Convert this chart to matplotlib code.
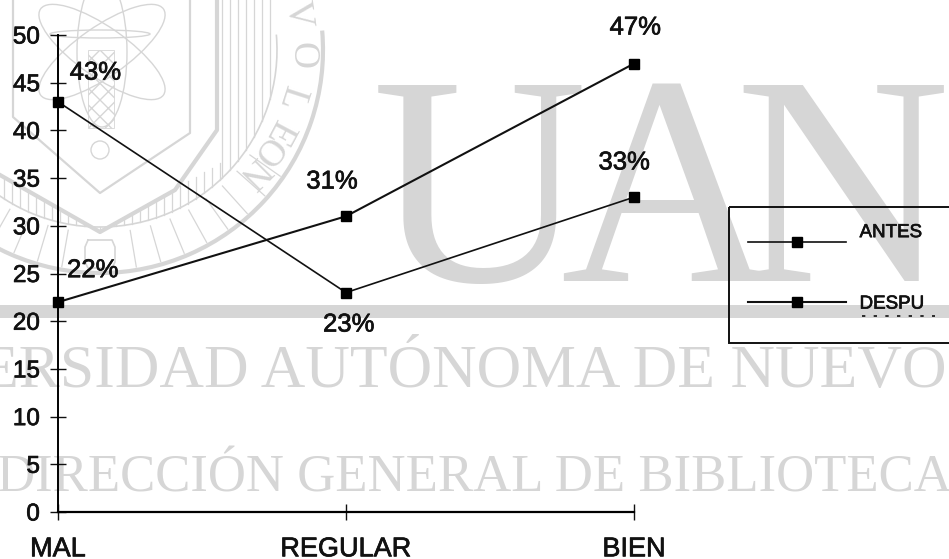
import matplotlib
matplotlib.use("Agg")
import numpy as np
import matplotlib.pyplot as plt
import matplotlib.patheffects as pe
from matplotlib.patches import Ellipse, Arc, Rectangle

W, H = 949, 559
categories = ["MAL", "REGULAR", "BIEN"]
antes = [43, 23, 33]
despues = [22, 31, 47]
yticks = list(range(0, 51, 5))
GRAY = "#d6d6d6"
INK = "#111111"
plt.rcParams["font.family"] = ["Liberation Sans", "DejaVu Sans"]
stroke = [pe.withStroke(linewidth=0.5, foreground=INK)]

fig = plt.figure(figsize=(W / 100, H / 100), dpi=100, facecolor="white")

# scanned watermark, in pixel coordinates
bg = fig.add_axes([0, 0, 1, 1], zorder=0)
bg.set_xlim(0, W); bg.set_ylim(H, 0); bg.axis("off")
serif = "Liberation Serif"
for s, x in [("U", 480), ("A", 668), ("N", 842)]:
    bg.text(x, 281, s, family=serif, fontsize=215, color=GRAY, ha="center", va="baseline")
bg.axhspan(305, 318, color=GRAY, lw=0)
bg.text(947, 387, "ERSIDAD AUTÓNOMA DE NUEVO", family=serif, fontsize=44.5, color=GRAY, ha="right", va="baseline")
bg.text(-3, 492, "DIRECCIÓN GENERAL DE BIBLIOTECA", family=serif, fontsize=38, color=GRAY, ha="left", va="baseline")

# seal
cx, cy = 100, 50
thin = dict(color=GRAY, lw=0.9)
bg.add_patch(Arc((cx, cy), 446, 446, theta1=-5, theta2=185, fill=False, ec=GRAY, lw=3))
bg.add_patch(Arc((cx, cy), 354, 354, theta1=-5, theta2=185, fill=False, ec=GRAY, lw=1.2))
bg.plot([13, 13, 100, 190, 190], [0, 117, 193, 133, 0], color=GRAY, lw=1.6)
bg.plot([0, 100, 175, 217, 217], [175, 232, 190, 130, 0], color=GRAY, lw=3)
for x in np.arange(222, 277, 8):
    bg.plot([x, x], [0, cy + np.sqrt(177 ** 2 - (x - cx) ** 2)], **thin)
for x in np.arange(4, 222, 8):
    top = 232 - 0.575 * abs(x - cx)
    bg.plot([x, x], [top, cy + np.sqrt(177 ** 2 - (x - cx) ** 2)], **thin)
for a in np.arange(35, 160, 6.5):
    t = np.radians(a)
    if abs(a - 90) > 7:
        bg.plot([cx + 183 * np.cos(t), cx + 220 * np.cos(t)],
                [cy + 183 * np.sin(t), cy + 220 * np.sin(t)], **thin)
bg.plot([88, 112, 115, 115, 112, 88, 85, 85, 88], [240, 240, 247, 262, 268, 268, 262, 247, 240], color=GRAY, lw=1.2)
for ang in (-35, 35, 90):
    bg.add_patch(Ellipse((102, 52), 150, 50, angle=ang, fill=False, ec=GRAY, lw=1.0))
bg.add_patch(Rectangle((88, 50), 26, 78, fill=False, ec=GRAY, lw=0.6, hatch="xx"))
bg.add_patch(Ellipse((100, 34), 100, 8, fill=False, ec=GRAY, lw=1.0))
bg.add_patch(Ellipse((100, 150), 18, 18, fill=False, ec=GRAY, lw=1.0))
for s, x, y, rot in [("V", 298, 14, -82), ("O", 302, 55, -90), ("L", 291, 98, -108),
                     ("E", 279, 132, -118), ("O", 266, 150, -128), ("N", 253, 172, -135)]:
    bg.text(x, y, s, family=serif, fontsize=27, color=GRAY, rotation=rot, rotation_mode="anchor", ha="center", va="center")

# legend frame and scan remnants (runs off the right edge as in the scan)
bg.add_patch(Rectangle((729, 207), 240, 136, fill=False, ec=INK, lw=1.4, zorder=3))
bg.plot([862, 935], [316, 316], color=INK, lw=1.2, ls=(0, (2, 5)), zorder=3)

# chart
ax = fig.add_axes([58 / W, 1 - 512 / H, (634 - 58) / W, (512 - 35) / H], zorder=1)
ax.patch.set_alpha(0)
xs = range(len(categories))
l1, = ax.plot(xs, antes, color=INK, lw=1.2, marker="s", ms=7.5, mfc="black", mec="black", clip_on=False, label="ANTES")
l2, = ax.plot(xs, despues, color=INK, lw=1.5, marker="s", ms=7.5, mfc="black", mec="black", clip_on=False, label="DESPU")
ax.set_xlim(0, 2); ax.set_ylim(0, 50)
ax.set_xticks(list(xs)); ax.set_xticklabels(categories)
ax.set_yticks(yticks)
ax.tick_params(axis="y", direction="inout", length=11, width=1, labelsize=17.5, pad=7.5, colors=INK)
ax.tick_params(axis="x", direction="inout", length=11, width=1, labelsize=19.5, pad=12, colors=INK)
for lab in ax.get_xticklabels() + ax.get_yticklabels():
    lab.set_path_effects(stroke)
for s in ("top", "right"):
    ax.spines[s].set_visible(False)
ax.spines["left"].set_linewidth(1.4)
ax.spines["bottom"].set_linewidth(1.6)

offsets_a = [(27, 21), (2, -23), (-7, 25)]
offsets_d = [(25, 23), (-10, 25), (1, 26)]
for vals, offs in ((antes, offsets_a), (despues, offsets_d)):
    for i, (v, o) in enumerate(zip(vals, offs)):
        ax.annotate(f"{v}%", (i, v), xytext=o, textcoords="offset points", ha="center", va="center",
                    fontsize=18.5, color=INK, annotation_clip=False, path_effects=stroke)

leg = ax.legend(handles=[l1, l2], loc="upper left", bbox_to_anchor=(748 / W, 1 - 235 / H),
                bbox_transform=fig.transFigure, fontsize=13.5, frameon=False, borderpad=0,
                handlelength=5.2, handletextpad=0.75, labelspacing=2.31, borderaxespad=0,
                labelcolor=INK)
for t in leg.get_texts():
    t.set_path_effects(stroke)
leg.get_texts()[0].set_y(11)

fig.savefig("out.png", dpi=100)
